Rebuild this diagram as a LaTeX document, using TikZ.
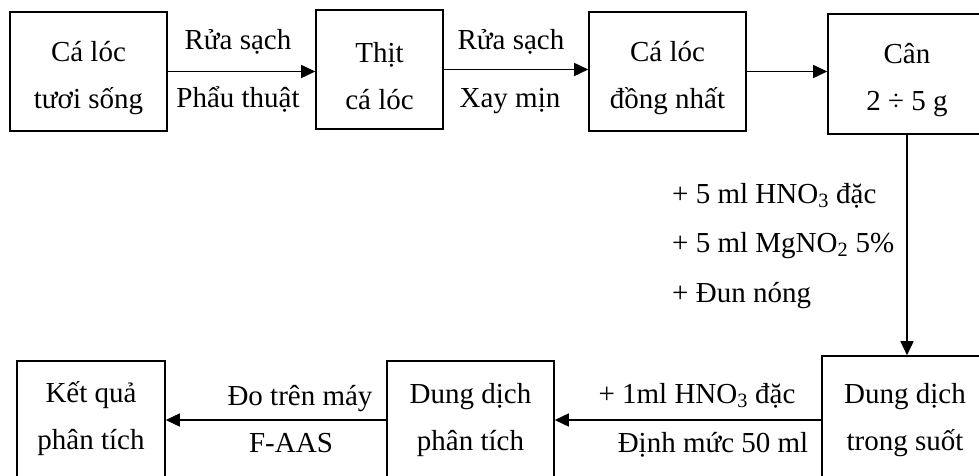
\documentclass[tikz,border=0pt]{standalone}
\usepackage{fontspec}
\setmainfont{Liberation Serif}
\usetikzlibrary{arrows.meta}
\newcommand{\topstrut}{\rule{0pt}{33pt}}
\begin{document}
\begin{tikzpicture}[x=1pt,y=-1pt,
  box/.style={draw, line width=1.6pt, inner sep=0pt, align=center, font=\fontsize{29}{47}\selectfont},
  lbl/.style={inner sep=0pt, anchor=base, font=\fontsize{29}{35}\selectfont},
  lblw/.style={lbl, anchor=base west},
  flow/.style={line width=1.6pt, -{Triangle[length=14pt,width=13pt]}}]
\useasboundingbox (0,0) rectangle (979,475);
\clip (0,0) rectangle (979,475);
% top row
\node[box, minimum width=157pt, minimum height=119pt] (b1) at (88.5,71.5) {\topstrut Cá lóc\\tươi sống};
\node[box, minimum width=127pt, minimum height=119pt] (b2) at (379.5,69.5) {\topstrut Thịt\\cá lóc};
\node[box, minimum width=157pt, minimum height=119pt] (b3) at (667.5,71.5) {\topstrut Cá lóc\\đồng nhất};
\node[box, minimum width=158pt, minimum height=120pt] (b4) at (907,74) {\topstrut Cân\\2 ÷ 5 g};
% bottom row
\node[box, minimum width=166pt, minimum height=128pt] (b5) at (905,420) {Dung dịch\\trong suốt};
\node[box, minimum width=167pt, minimum height=118pt] (b6) at (470.5,420) {Dung dịch\\phân tích};
\node[box, minimum width=148pt, minimum height=116pt] (b7) at (91,419) {Kết quả\\phân tích};
% connectors
\draw[flow] (b1.east) -- (b1.east -| b2.west);
\draw[flow] (b2.east) -- (b2.east -| b3.west);
\draw[flow] (b3.east) -- (b3.east -| b4.west);
\draw[flow] (b4.south) -- (b4.south |- b5.north);
\draw[flow] (b5.west) -- (b5.west -| b6.east);
\draw[flow] (b6.west) -- (b6.west -| b7.east);
% labels
\node[lbl] (l1a) at (238,49) {Rửa sạch};
\node[lbl] (l1b) at (238,107) {Phẩu thuật};
\node[lbl] (l2a) at (511,49) {Rửa sạch};
\node[lbl] (l2b) at (510,107) {Xay mịn};
\node[lblw] (l3a) at (672,203) {+ 5 ml HNO\textsubscript{3} đặc};
\node[lblw] (l3b) at (672,252) {+ 5 ml MgNO\textsubscript{2} 5\%};
\node[lblw] (l3c) at (672,302) {+ Đun nóng};
\node[lbl] (l4a) at (697,403) {+ 1ml HNO\textsubscript{3} đặc};
\node[lbl] (l4b) at (713,452) {Định mức 50 ml};
\node[lbl] (l5a) at (300,405) {Đo trên máy};
\node[lbl] (l5b) at (291,452) {F-AAS};
\end{tikzpicture}
\end{document}
